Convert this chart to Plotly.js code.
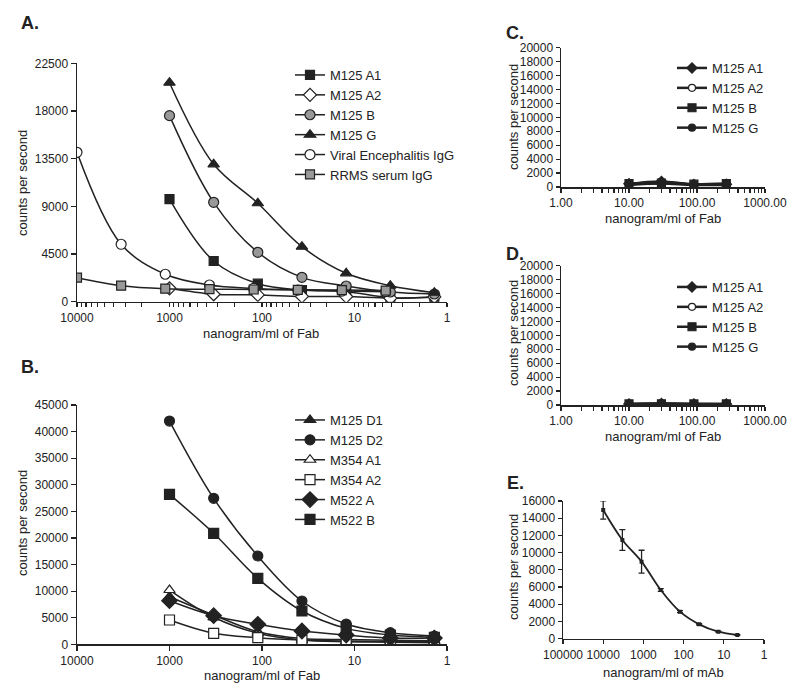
<!DOCTYPE html>
<html><head><meta charset="utf-8">
<script src="https://cdn.plot.ly/plotly-3.0.1.min.js"></script>
<style>body{margin:0;background:#fff}#chart{width:800px;height:692px}</style>
</head><body><div id="chart"></div>
<script>
// ---------- Panel A ----------
const doseA_M125 = [1000, 333, 111, 37, 12.3, 4.1, 1.37];
const doseA_ctrl = [10000, 3333, 1111, 370, 123, 41, 13.7, 4.6];
const a_M125A1 = [9690, 3840, 1700, 1100, 950, 380, 450];
const a_M125A2 = [1260, 700, 640, 500, 480, 330, 450];
const a_M125B  = [17560, 9380, 4660, 2300, 1480, 915, 727];
const a_M125G  = [20670, 12970, 9290, 5190, 2680, 1510, 850];
const a_viral  = [14100, 5420, 2590, 1575, 1250, 1100, 1000, 950];
const a_rrms   = [2265, 1510, 1230, 1180, 1150, 1120, 1100, 1050];
const namesA = ["M125 A1", "M125 A2", "M125 B", "M125 G", "Viral Encephalitis IgG", "RRMS serum IgG"];
const yTicksA = [0, 4500, 9000, 13500, 18000, 22500];

// ---------- Panel B ----------
const doseB = [1000, 333, 111, 37, 12.3, 4.1, 1.37];
const b_M125D1 = [8950, 5510, 2370, 1100, 900, 750, 650];
const b_M125D2 = [41980, 27450, 16600, 8140, 3820, 2180, 1560];
const b_M354A1 = [10210, 5080, 2070, 800, 500, 400, 300];
const b_M354A2 = [4570, 2070, 1240, 800, 600, 500, 500];
const b_M522A  = [8200, 5380, 3760, 2500, 1750, 1180, 1180];
const b_M522B  = [28200, 20870, 12400, 6260, 3000, 1750, 1320];
const namesB = ["M125 D1", "M125 D2", "M354 A1", "M354 A2", "M522 A", "M522 B"];

const xTickValsAB = [10000, 1000, 100, 10, 1];
const xTickTextAB = ["10000", "1000", "100", "10", "1"];

// ---------- Panels C and D ----------
const doseCD = [10, 30, 90, 270];
const c_M125A1 = [450, 800, 350, 400];
const c_M125A2 = [300, 500, 300, 300];
const c_M125B  = [500, 550, 400, 500];
const c_M125G  = [400, 700, 350, 400];
const d_M125A1 = [150, 200, 150, 150];
const d_M125A2 = [100, 150, 100, 100];
const d_M125B  = [150, 180, 150, 150];
const d_M125G  = [120, 170, 130, 120];
const namesCD = ["M125 A1", "M125 A2", "M125 B", "M125 G"];
const xTickValsCD = [1, 10, 100, 1000];
const xTickTextCD = ["1.00", "10.00", "100.00", "1000.00"];

// ---------- Panel E ----------
const doseE = [10000, 3333, 1111, 370, 123, 41, 13.7, 4.6];
const e_mean = [14950, 11470, 8950, 5660, 3140, 1670, 815, 430];
const e_err  = [1060, 1200, 1330, 150, 120, 80, 60, 50];
const xTickValsE = [100000, 10000, 1000, 100, 10, 1];
const xTickTextE = ["100000", "10000", "1000", "100", "10", "1"];

const INK = '#222';
const GRAY = '#999';
const FONT = 'Liberation Sans, Arial, sans-serif';

// log tick positions: labelled decades plus unlabelled 2..9 minor ticks
function logTicks(vals, texts, lo, hi) {
  const tv = vals.slice(), tt = texts.slice();
  for (let d = lo; d < hi; d++) for (let m = 2; m <= 9; m++) { tv.push(m * Math.pow(10, d)); tt.push(''); }
  return {tickmode: 'array', tickvals: tv, ticktext: tt};
}

function tr(x, y, name, xa, ya, leg, sym, fill, size, lw) {
  return {
    x: x, y: y, name: name, type: 'scatter', mode: 'lines+markers',
    xaxis: xa, yaxis: ya, legend: leg,
    line: {color: INK, width: lw, shape: 'spline'},
    marker: {symbol: sym, color: fill, size: size, line: {color: INK, width: 1.2}}
  };
}

const data = [
  tr(doseA_M125, a_M125A1, namesA[0], 'x', 'y', 'legend', 'square', INK, 9, 1.5),
  tr(doseA_M125, a_M125A2, namesA[1], 'x', 'y', 'legend', 'diamond', '#fff', 10, 1.5),
  tr(doseA_M125, a_M125B,  namesA[2], 'x', 'y', 'legend', 'circle', GRAY, 10, 1.5),
  tr(doseA_M125, a_M125G,  namesA[3], 'x', 'y', 'legend', 'triangle-up', INK, 10, 1.5),
  tr(doseA_ctrl, a_viral,  namesA[4], 'x', 'y', 'legend', 'circle', '#fff', 10, 1.5),
  tr(doseA_ctrl, a_rrms,   namesA[5], 'x', 'y', 'legend', 'square', GRAY, 9, 1.5),

  tr(doseB, b_M125D1, namesB[0], 'x2', 'y2', 'legend2', 'triangle-up', INK, 10, 1.5),
  tr(doseB, b_M125D2, namesB[1], 'x2', 'y2', 'legend2', 'circle', INK, 10, 1.5),
  tr(doseB, b_M354A1, namesB[2], 'x2', 'y2', 'legend2', 'triangle-up', '#fff', 10, 1.5),
  tr(doseB, b_M354A2, namesB[3], 'x2', 'y2', 'legend2', 'square', '#fff', 10, 1.5),
  tr(doseB, b_M522A,  namesB[4], 'x2', 'y2', 'legend2', 'diamond', INK, 12, 1.5),
  tr(doseB, b_M522B,  namesB[5], 'x2', 'y2', 'legend2', 'square', INK, 10, 1.5),

  tr(doseCD, c_M125A1, namesCD[0], 'x3', 'y3', 'legend3', 'diamond', INK, 8, 2.5),
  tr(doseCD, c_M125A2, namesCD[1], 'x3', 'y3', 'legend3', 'circle', '#fff', 7, 2.5),
  tr(doseCD, c_M125B,  namesCD[2], 'x3', 'y3', 'legend3', 'square', INK, 8, 2.5),
  tr(doseCD, c_M125G,  namesCD[3], 'x3', 'y3', 'legend3', 'circle', INK, 7, 2.5),

  tr(doseCD, d_M125A1, namesCD[0], 'x4', 'y4', 'legend4', 'diamond', INK, 8, 2.5),
  tr(doseCD, d_M125A2, namesCD[1], 'x4', 'y4', 'legend4', 'circle', '#fff', 7, 2.5),
  tr(doseCD, d_M125B,  namesCD[2], 'x4', 'y4', 'legend4', 'square', INK, 8, 2.5),
  tr(doseCD, d_M125G,  namesCD[3], 'x4', 'y4', 'legend4', 'circle', INK, 7, 2.5),

  {
    x: doseE, y: e_mean, type: 'scatter', mode: 'lines+markers', xaxis: 'x5', yaxis: 'y5',
    showlegend: false, name: 'mAb',
    line: {color: INK, width: 1.8, shape: 'spline'},
    marker: {symbol: 'square', color: INK, size: 4},
    error_y: {type: 'data', array: e_err, visible: true, color: INK, thickness: 1.3, width: 3}
  }
];

function xlog(domain, range, extra) {
  return Object.assign({
    type: 'log', domain: domain, range: range, showline: true,
    linecolor: INK, linewidth: 1.5, ticks: 'outside', ticklen: 5, tickwidth: 1.2,
    tickcolor: INK, showgrid: false, zeroline: false, fixedrange: true, tickangle: 0,
    tickfont: {family: FONT, size: 12, color: INK}
  }, extra);
}
function ylin(domain, range, dtick, extra) {
  return Object.assign({
    domain: domain, range: range, dtick: dtick, tick0: 0, showline: true, tickformat: 'd',
    linecolor: INK, linewidth: 1.5, ticks: 'outside', ticklen: 5, tickwidth: 1.2,
    tickcolor: INK, showgrid: false, zeroline: false, fixedrange: true,
    tickfont: {family: FONT, size: 12, color: INK}
  }, extra);
}

const yA = [1 - 301.7/692, 1 - 63.3/692];
const yB = [1 - 644.3/692, 1 - 405/692];
const yC = [1 - 187/692, 1 - 47.7/692];
const yD = [1 - 405/692, 1 - 265.7/692];
const yE = [1 - 638.7/692, 1 - 501/692];
const xAB = [77/800, 447/800];
const xCD = [561/800, 765/800];
const xE = [563/800, 764/800];

const legBase = {
  font: {family: FONT, size: 13, color: INK}, bgcolor: 'rgba(0,0,0,0)',
  xanchor: 'left', yanchor: 'top', tracegroupgap: 0, itemclick: false, itemdoubleclick: false
};

function ann(text, x, y, size, extra) {
  return Object.assign({
    text: text, x: x/800, y: 1 - y/692, xref: 'paper', yref: 'paper',
    showarrow: false, xanchor: 'center', yanchor: 'middle',
    font: {family: FONT, size: size, color: INK}
  }, extra || {});
}
const f12 = {family: FONT, size: 12, color: INK};

const layout = {
  width: 800, height: 692, margin: {l: 0, r: 0, t: 0, b: 0},
  paper_bgcolor: '#fff', plot_bgcolor: 'rgba(0,0,0,0)',
  xaxis: xlog(xAB, [4, 0], Object.assign({anchor: 'y', ticklen: 4}, logTicks(xTickValsAB, xTickTextAB, 0, 4))),
  yaxis: ylin(yA, [0, 22500], 4500, {anchor: 'x', tickvals: yTicksA}),
  xaxis2: xlog(xAB, [4, 0], {anchor: 'y2', tickvals: xTickValsAB, ticktext: xTickTextAB}),
  yaxis2: ylin(yB, [0, 45000], 5000, {anchor: 'x2'}),
  xaxis3: xlog(xCD, [0, 3], Object.assign({anchor: 'y3', ticklen: 4, tickfont: f12}, logTicks(xTickValsCD, xTickTextCD, 0, 3))),
  yaxis3: ylin(yC, [0, 20000], 2000, {anchor: 'x3', ticklen: 4, tickfont: f12}),
  xaxis4: xlog(xCD, [0, 3], Object.assign({anchor: 'y4', ticklen: 4, tickfont: f12}, logTicks(xTickValsCD, xTickTextCD, 0, 3))),
  yaxis4: ylin(yD, [0, 20000], 2000, {anchor: 'x4', ticklen: 4, tickfont: f12}),
  xaxis5: xlog(xE, [5, 0], {anchor: 'y5', tickvals: xTickValsE, ticktext: xTickTextE, ticklen: 4, tickfont: f12}),
  yaxis5: ylin(yE, [0, 16000], 2000, {anchor: 'x5', ticklen: 4, tickfont: f12}),
  legend: Object.assign({}, legBase, {x: 290/800, y: 1 - 60/692}),
  legend2: Object.assign({}, legBase, {x: 290/800, y: 1 - 405/692}),
  legend3: Object.assign({}, legBase, {x: 672/800, y: 1 - 53/692}),
  legend4: Object.assign({}, legBase, {x: 672/800, y: 1 - 272/692}),
  annotations: [
    ann('<b>A.</b>', 30, 23, 18),
    ann('<b>B.</b>', 30, 367, 18),
    ann('<b>C.</b>', 515, 33, 18),
    ann('<b>D.</b>', 515, 254, 18),
    ann('<b>E.</b>', 515, 483, 18),
    ann('counts per second', 22, 183, 13, {textangle: -90}),
    ann('nanogram/ml of Fab', 261, 333, 13),
    ann('counts per second', 22, 523, 13, {textangle: -90}),
    ann('nanogram/ml of Fab', 262, 675, 13),
    ann('counts per second', 513, 117, 13, {textangle: -90}),
    ann('nanogram/ml of Fab', 663, 218, 13),
    ann('counts per second', 513, 333, 13, {textangle: -90}),
    ann('nanogram/ml of Fab', 663, 436, 13),
    ann('counts per second', 513, 567, 13, {textangle: -90}),
    ann('nanogram/ml of mAb', 663, 672, 13)
  ]
};

Plotly.newPlot('chart', data, layout, {staticPlot: true, displayModeBar: false});
</script></body></html>
